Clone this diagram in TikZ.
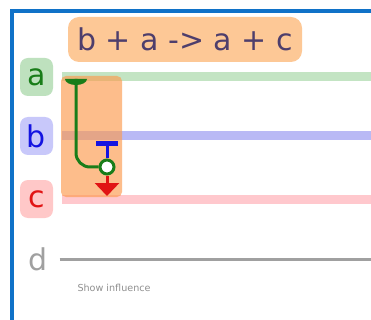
\documentclass[tikz,border=0pt]{standalone}
\usepackage{fontspec}
\setmainfont{DejaVu Sans}
\usetikzlibrary{positioning,arrows.meta}

\definecolor{frameblue}{RGB}{16,114,200}
\definecolor{rxnorange}{RGB}{253,200,150}
\definecolor{boxorange}{RGB}{252,155,78}
\definecolor{rxntext}{RGB}{78,62,108}
\definecolor{agreen}{RGB}{25,125,25}
\definecolor{afill}{RGB}{190,225,190}
\definecolor{aline}{RGB}{195,228,195}
\definecolor{bblue}{RGB}{20,20,225}
\definecolor{bfill}{RGB}{200,200,250}
\definecolor{bline}{RGB}{185,185,245}
\definecolor{cred}{RGB}{225,20,20}
\definecolor{cfill}{RGB}{255,200,200}
\definecolor{cline}{RGB}{255,200,205}
\definecolor{dgray}{RGB}{160,160,160}

\begin{document}
\begin{tikzpicture}[
    x=1pt, y=-1pt,
    species/.style={
        minimum width=33pt,
        minimum height=38pt,
        rounded corners=8pt,
        inner sep=0pt,
        font=\fontsize{30}{30}\selectfont
    },
    track/.style={line width=9pt},
    wire/.style={line width=3pt}
]
\useasboundingbox (0,0) rectangle (371,320);
\fill[white] (0,0) rectangle (371,320);
\draw[frameblue, line width=4pt] (11.5,320) -- (11.5,11.5) -- (371,11.5);

% reaction
\node[fill=rxnorange, rounded corners=11pt, minimum width=234pt, minimum height=45pt,
      text=rxntext, font=\fontsize{30}{30}\selectfont] (rxn) at (185,39.5) {b + a -> a + c};

% species and their tracks
\node[species, fill=afill, text=agreen] (a) at (36.5,77) {a};
\node[species, fill=bfill, text=bblue] (b) at (36.5,136) {b};
\node[species, fill=cfill, text=cred] (c) at (36.5,199) {c};
\node[species, text=dgray] (d) at (38,259) {d};

\draw[track, aline] ([xshift=9pt]a.east) -- ++(310pt,0);
\draw[track, bline] ([xshift=9pt]b.east) -- ++(310pt,0);
\draw[track, cline] ([xshift=9pt]c.east) -- ++(310pt,0);
\draw[line width=3pt, dgray] ([xshift=5pt]d.east) -- ++(320pt,0);

% reaction column
\node[fill=boxorange, fill opacity=0.65, rounded corners=5pt,
      minimum width=61pt, minimum height=121pt] (col) at (91.5,136.5) {};

\coordinate (src) at (76,79);
\coordinate (inh) at (107,141.5);
\coordinate (out) at (107,196);
\node[circle, draw=agreen, line width=3pt, fill=white, minimum size=14pt, inner sep=0pt] (join) at (107,167) {};

\fill[agreen] ([xshift=-11pt]src) arc[start angle=180, end angle=360, x radius=11pt, y radius=6pt] -- cycle;
\draw[wire, agreen, rounded corners=14pt] (src) |- (join.west);
\draw[wire, bblue, -{Bar[width=22pt, line width=5pt]}] (join.north) -- (inh);
\draw[wire, cred, -{Triangle[width=24pt, length=13pt]}] (join.south) -- (out);

\node[anchor=west, text=dgray!90!black, font=\fontsize{9.6}{11}\selectfont] (hint) at (74,288) {Show influence};
\end{tikzpicture}
\end{document}
